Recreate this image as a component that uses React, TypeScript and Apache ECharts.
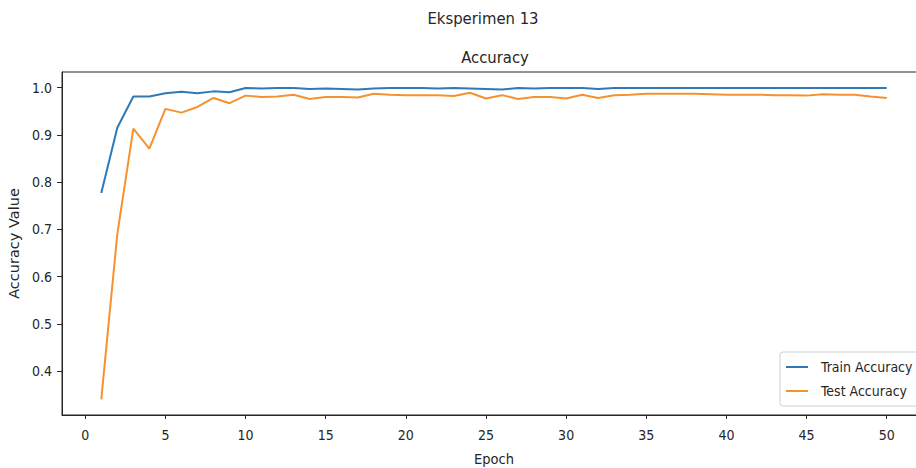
import React, { useEffect, useRef } from "react";
import * as echarts from "echarts";

const epochs: number[] = Array.from({ length: 50 }, (_, i) => i + 1);

const trainAccuracy: number[] = [
  0.777, 0.915, 0.981, 0.981, 0.988, 0.991, 0.988, 0.992, 0.990, 0.999,
  0.998, 0.999, 0.999, 0.997, 0.998, 0.997, 0.996, 0.998, 0.999, 0.999,
  0.999, 0.998, 0.999, 0.998, 0.997, 0.996, 0.999, 0.998, 0.999, 0.999,
  0.999, 0.997, 0.999, 0.999, 0.999, 0.999, 0.999, 0.999, 0.999, 0.999,
  0.999, 0.999, 0.999, 0.999, 0.999, 0.999, 0.999, 0.999, 0.999, 0.999,
];

const testAccuracy: number[] = [
  0.340, 0.690, 0.913, 0.871, 0.955, 0.947, 0.959, 0.978, 0.967, 0.983,
  0.980, 0.981, 0.985, 0.976, 0.980, 0.980, 0.979, 0.987, 0.985, 0.984,
  0.984, 0.984, 0.982, 0.989, 0.977, 0.984, 0.976, 0.980, 0.980, 0.977,
  0.985, 0.978, 0.984, 0.985, 0.987, 0.987, 0.987, 0.987, 0.986, 0.985,
  0.985, 0.985, 0.984, 0.984, 0.983, 0.986, 0.985, 0.985, 0.981, 0.978,
];

const xTicks: number[] = [0, 5, 10, 15, 20, 25, 30, 35, 40, 45, 50];
const yTicks: number[] = [0.4, 0.5, 0.6, 0.7, 0.8, 0.9, 1.0];

const FONT = "'DejaVu Sans Condensed', 'Liberation Sans Narrow', 'DejaVu Sans', sans-serif";
const TXT = "#262626";

export default function App() {
  const ref = useRef<HTMLDivElement>(null);
  useEffect(() => {
    if (!ref.current) return;
    const chart = echarts.init(ref.current, undefined, { renderer: "svg" });
    chart.setOption({
      animation: false,
      backgroundColor: "#ffffff",
      title: [
        {
          text: "Eksperimen 13",
          left: 478,
          top: 5,
          textAlign: "center",
          textStyle: { fontFamily: FONT, fontSize: 16.5, fontWeight: "normal", color: TXT },
        },
        {
          text: "Accuracy",
          left: 490,
          top: 44,
          textAlign: "center",
          textStyle: { fontFamily: FONT, fontSize: 16.5, fontWeight: "normal", color: TXT },
        },
      ],
      legend: {
        orient: "vertical",
        left: 780,
        top: 352,
        data: ["Train Accuracy", "Test Accuracy"],
        icon: "rect",
        itemWidth: 22,
        itemHeight: 2,
        itemGap: 10,
        padding: [8, 10, 8, 6],
        backgroundColor: "#ffffff",
        borderColor: "#d0d0d0",
        borderWidth: 1,
        borderRadius: 3,
        textStyle: { fontFamily: FONT, fontSize: 14, color: TXT, padding: [0, 0, 0, 8] },
      },
      grid: {
        left: 62,
        top: 72,
        width: 864,
        height: 343,
        show: true,
        borderColor: "#262626",
        borderWidth: 1,
        containLabel: false,
        outerBoundsMode: "none",
      },
      xAxis: {
        type: "value",
        min: -1.45,
        max: 52.45,
        name: "Epoch",
        nameLocation: "middle",
        nameGap: 36,
        nameTextStyle: { fontFamily: FONT, fontSize: 14.5, color: TXT },
        axisLine: { show: true, onZero: false, lineStyle: { color: "#262626", width: 1 } },
        axisTick: { show: true, length: 4, customValues: xTicks, lineStyle: { color: "#262626" } },
        axisLabel: { customValues: xTicks, fontFamily: FONT, fontSize: 14, color: TXT, margin: 13 },
        splitLine: { show: false },
      },
      yAxis: {
        type: "value",
        min: 0.307,
        max: 1.033,
        name: "Accuracy Value",
        nameLocation: "middle",
        nameGap: 37,
        nameRotate: 90,
        nameTextStyle: { fontFamily: "'DejaVu Sans', sans-serif", fontSize: 14.5, color: TXT },
        axisLine: { show: true, onZero: false, lineStyle: { color: "#262626", width: 1 } },
        axisTick: { show: true, length: 5, customValues: yTicks, lineStyle: { color: "#262626" } },
        axisLabel: {
          customValues: yTicks,
          fontFamily: FONT,
          fontSize: 14,
          color: TXT,
          margin: 10,
          formatter: (v: number) => v.toFixed(1),
        },
        splitLine: { show: false },
      },
      series: [
        {
          name: "Train Accuracy",
          type: "line",
          data: epochs.map((e, i) => [e, trainAccuracy[i]]),
          showSymbol: false,
          symbol: "none",
          lineStyle: { color: "#2f7ab6", width: 2 },
          itemStyle: { color: "#2f7ab6" },
        },
        {
          name: "Test Accuracy",
          type: "line",
          data: epochs.map((e, i) => [e, testAccuracy[i]]),
          showSymbol: false,
          symbol: "none",
          lineStyle: { color: "#f5922f", width: 2 },
          itemStyle: { color: "#f5922f" },
        },
      ],
    });
    return () => chart.dispose();
  }, []);
  return (
    <div
      ref={ref}
      style={{ position: "fixed", left: 0, top: 0, width: 916, height: 468 }}
    />
  );
}
